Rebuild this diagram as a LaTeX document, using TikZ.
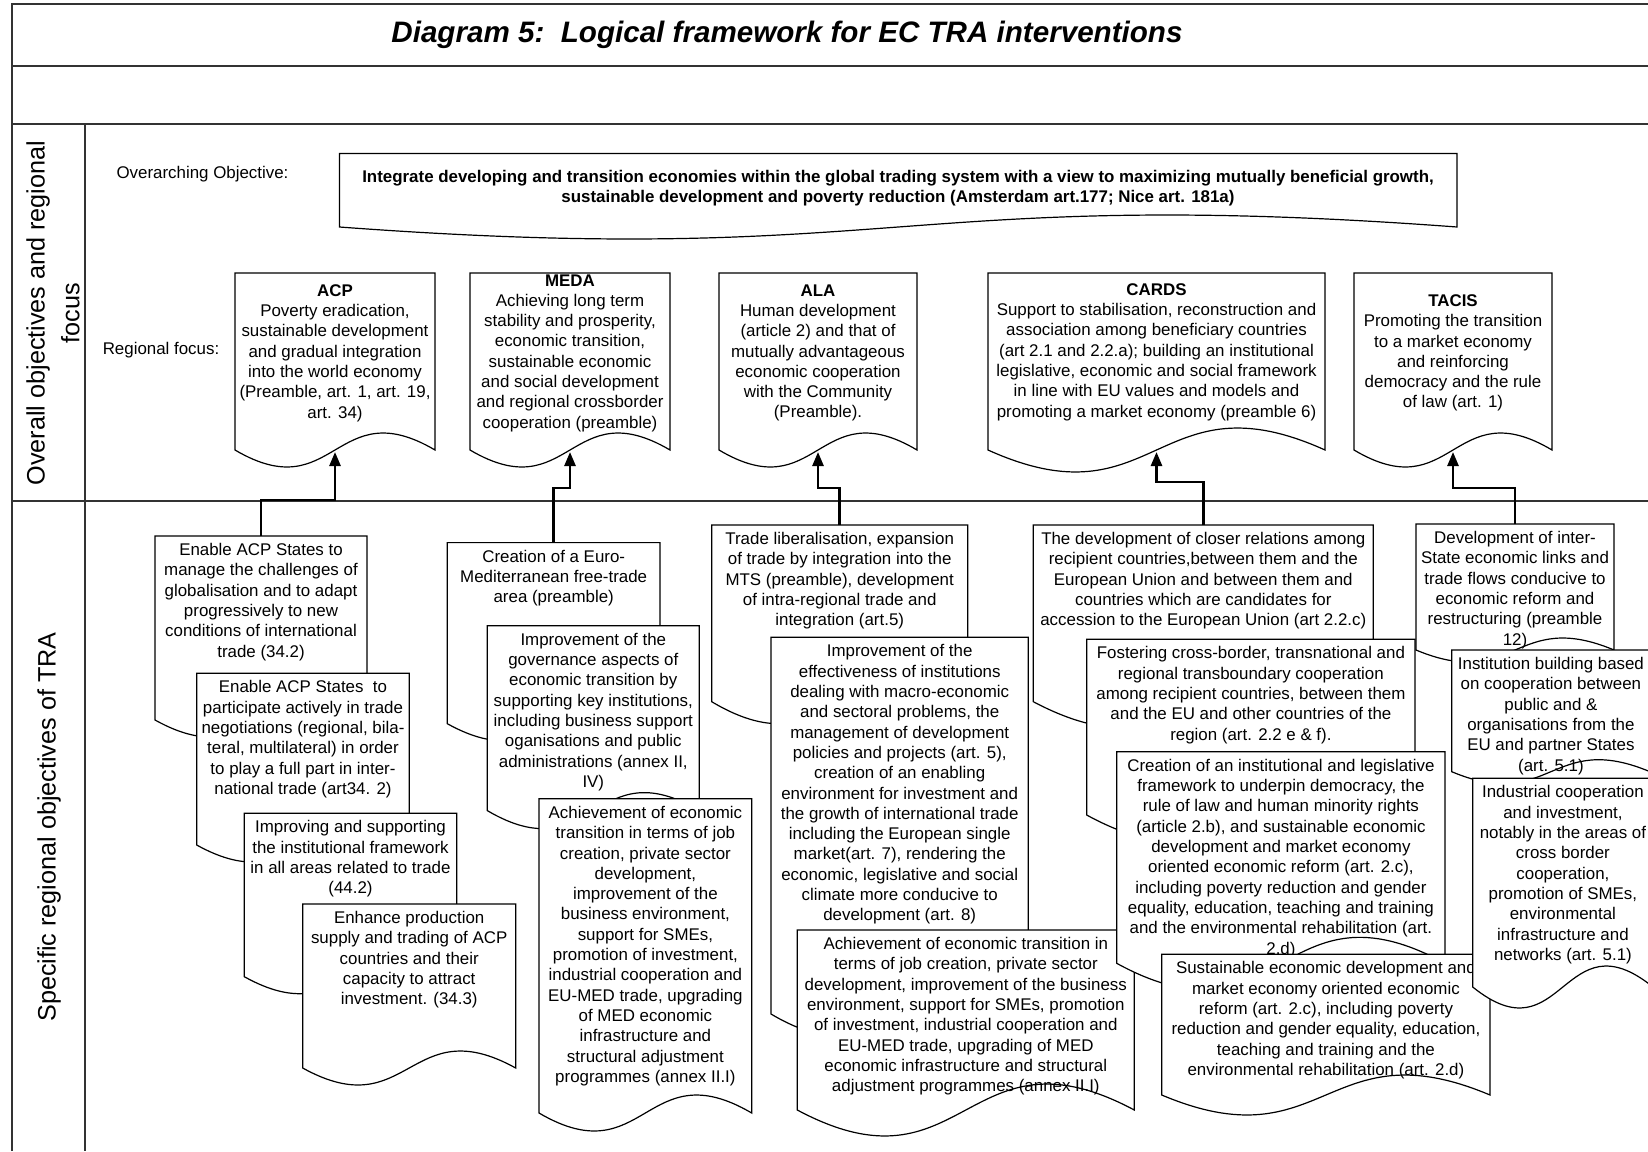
\documentclass[tikz,border=0pt]{standalone}
\usepackage{fontspec}
\setmainfont{Liberation Sans}
\usepackage{tikz}
\usetikzlibrary{arrows.meta}
\newcommand{\bodyfont}{\fontsize{8.45pt}{10.15pt}\selectfont}
\newcommand{\docshape}[5]{%
	\filldraw[docline] (#1,#2) -- (#3,#2) -- (#3,#4)
		.. controls ({(#1+#3)/2},{#4-3.46*#5}) and ({(#1+#3)/2},{#4+3.46*#5}) .. (#1,#4) -- cycle;}
\tikzset{
	frameline/.style={line width=1pt,draw=black!80},
	docline/.style={draw=black,fill=white,line width=0.6pt},
	titlestyle/.style={font=\fontsize{14.8pt}{17pt}\selectfont\bfseries\itshape},
	sidestyle/.style={rotate=90,align=center,font=\fontsize{12.6pt}{17.3pt}\selectfont},
	labelstyle/.style={font=\bodyfont},
	objstyle/.style={align=center,font=\bodyfont\bfseries},
	regstyle/.style={align=center,font=\bodyfont},
	lowstyle/.style={anchor=north,align=center,inner ysep=3.5pt,font=\bodyfont},
	linkstyle/.style={line width=1.3pt,-{Triangle[length=7pt,width=5.5pt]}}
}

\begin{document}
\begin{tikzpicture}[x=0.5pt,y=-0.5pt]
		\useasboundingbox (0,0) rectangle (1648,1151);
		\draw[frameline] (11.5,1151) -- (11.5,4) -- (1648,4);
		\draw[frameline] (11.5,66) -- (1648,66);
		\draw[frameline] (11.5,124) -- (1648,124);
		\draw[frameline] (11.5,501) -- (1648,501);
		\draw[frameline] (85,124) -- (85,1151);
		\node[titlestyle] (title) at (787,35) {Diagram 5:\ \ Logical framework for EC TRA interventions};
		\node[sidestyle] (overall) at (53,313) {Overall objectives and regional\\focus};
		\node[sidestyle] (specific) at (49,827) {Specific regional objectives of TRA};
		\node[labelstyle] (overlabel) at (202.5,174) {Overarching Objective:};
		\node[labelstyle] (reglabel) at (161,350) {Regional focus:};
		\docshape{339.5}{153.5}{1457}{227}{12}
		\node[objstyle] (objective) at (898,188) {Integrate developing and transition economies within the global trading system with a view to maximizing mutually beneficial growth,\\sustainable development and poverty reduction (Amsterdam art.177; Nice art. 181a)};
		\docshape{235}{273}{435}{450}{17}
		\node[regstyle] (acp) at (335,353) {\textbf{ACP}\\Poverty eradication,\\sustainable development\\and gradual integration\\into the world economy\\(Preamble, art. 1, art. 19,\\art. 34)};
		\coordinate (acp-tip) at (335,452);
		\docshape{470}{273}{670}{450}{17}
		\node[regstyle] (meda) at (570,353) {\textbf{MEDA}\\Achieving long term\\stability and prosperity,\\economic transition,\\sustainable economic\\and social development\\and regional crossborder\\cooperation (preamble)};
		\coordinate (meda-tip) at (570,452);
		\docshape{719}{273}{917}{450}{17}
		\node[regstyle] (ala) at (818,353) {\textbf{ALA}\\Human development\\(article 2) and that of\\mutually advantageous\\economic cooperation\\with the Community\\(Preamble).};
		\coordinate (ala-tip) at (818,452);
		\docshape{988}{273}{1325}{450}{22}
		\node[regstyle] (cards) at (1156.5,352) {\textbf{CARDS}\\Support to stabilisation, reconstruction and\\association among beneficiary countries\\(art 2.1 and 2.2.a); building an institutional\\legislative, economic and social framework\\in line with EU values and models and\\promoting a market economy (preamble 6)};
		\coordinate (cards-tip) at (1156.5,452);
		\docshape{1354}{273}{1552}{450}{17}
		\node[regstyle] (tacis) at (1453,353) {\textbf{TACIS}\\Promoting the transition\\to a market economy\\and reinforcing\\democracy and the rule\\of law (art. 1)};
		\coordinate (tacis-tip) at (1453,452);
		\docshape{155}{536}{367}{720}{17}
		\node[lowstyle] (a1) at (261,536) {Enable ACP States to\\manage the challenges of\\globalisation and to adapt\\progressively to new\\conditions of international\\trade (34.2)};
		\docshape{196.7}{673.3}{409.3}{845}{17}
		\node[lowstyle] (a2) at (303,673.3) {Enable ACP States\ \ to\\participate actively in trade\\negotiations (regional, bila-\\teral, multilateral) in order\\to play a full part in inter-\\national trade (art34. 2)};
		\docshape{244.3}{813.3}{456.7}{976.7}{17}
		\node[lowstyle] (a3) at (350.5,813.3) {Improving and supporting\\the institutional framework\\in all areas related to trade\\(44.2)};
		\docshape{302.7}{904}{515.7}{1068}{17}
		\node[lowstyle] (a4) at (409.2,904) {Enhance production\\supply and trading of ACP\\countries and their\\capacity to attract\\investment. (34.3)};
		\docshape{447.3}{542.6}{660}{723.7}{17}
		\node[lowstyle] (m1) at (553.7,542.6) {Creation of a Euro-\\Mediterranean free-trade\\area (preamble)};
		\docshape{487.3}{625.7}{699.3}{810.6}{18}
		\node[lowstyle] (m2) at (593.3,625.7) {Improvement of the\\governance aspects of\\economic transition by\\supporting key institutions,\\including business support\\oganisations and public\\administrations (annex II,\\IV)};
		\docshape{539}{798.8}{751.7}{1113}{18}
		\node[lowstyle] (m3) at (645.4,798.8) {Achievement of economic\\transition in terms of job\\creation, private sector\\development,\\improvement of the\\business environment,\\support for SMEs,\\promotion of investment,\\industrial cooperation and\\EU-MED trade, upgrading\\of MED economic\\infrastructure and\\structural adjustment\\programmes (annex II.I)};
		\docshape{711.7}{525}{967.7}{701.7}{22}
		\node[lowstyle] (l1) at (839.7,525) {Trade liberalisation, expansion\\of trade by integration into the\\MTS (preamble), development\\of intra-regional trade and\\integration (art.5)};
		\docshape{771}{637.3}{1028.3}{1014}{22}
		\node[lowstyle] (l2) at (899.7,637.3) {Improvement of the\\effectiveness of institutions\\dealing with macro-economic\\and sectoral problems, the\\management of development\\policies and projects (art. 5),\\creation of an enabling\\environment for investment and\\the growth of international trade\\including the European single\\market(art. 7), rendering the\\economic, legislative and social\\climate more conducive to\\development (art. 8)};
		\docshape{797.3}{930}{1134.3}{1110}{26}
		\node[lowstyle] (l3) at (965.8,930) {Achievement of economic transition in\\terms of job creation, private sector\\development, improvement of the business\\environment, support for SMEs, promotion\\of investment, industrial cooperation and\\EU-MED trade, upgrading of MED\\economic infrastructure and structural\\adjustment programmes (annex II.I)};
		\docshape{1033.3}{525}{1373.3}{701.7}{26}
		\node[lowstyle] (c1) at (1203.3,525) {The development of closer relations among\\recipient countries,between them and the\\European Union and between them and\\countries which are candidates for\\accession to the European Union (art 2.2.c)};
		\docshape{1086.7}{639.3}{1415}{815}{26}
		\node[lowstyle] (c2) at (1250.9,639.3) {Fostering cross-border, transnational and\\regional transboundary cooperation\\among recipient countries, between them\\and the EU and other countries of the\\region (art. 2.2 e \& f).};
		\docshape{1116.7}{751.7}{1445}{963.3}{26}
		\node[lowstyle] (c3) at (1280.9,751.7) {Creation of an institutional and legislative\\framework to underpin democracy, the\\rule of law and human minority rights\\(article 2.b), and sustainable economic\\development and market economy\\oriented economic reform (art. 2.c),\\including poverty reduction and gender\\equality, education, teaching and training\\and the environmental rehabilitation (art.\\2.d)};
		\docshape{1161.7}{954.3}{1490}{1095}{20}
		\node[lowstyle] (c4) at (1325.9,954.3) {Sustainable economic development and\\market economy oriented economic\\reform (art. 2.c), including poverty\\reduction and gender equality, education,\\teaching and training and the\\environmental rehabilitation (art. 2.d)};
		\docshape{1416}{524}{1614}{650}{12}
		\node[lowstyle] (t1) at (1515,524) {Development of inter-\\State economic links and\\trade flows conducive to\\economic reform and\\restructuring (preamble\\12)};
		\docshape{1451.7}{650}{1650}{771.7}{12}
		\node[lowstyle] (t2) at (1550.9,650) {Institution building based\\on cooperation between\\public and \&\\organisations from the\\EU and partner States\\(art. 5.1)};
		\docshape{1472.7}{778.3}{1653}{987}{21}
		\node[lowstyle] (t3) at (1562.9,778.3) {Industrial cooperation\\and investment,\\notably in the areas of\\cross border\\cooperation,\\promotion of SMEs,\\environmental\\infrastructure and\\networks (art. 5.1)};
		\draw[linkstyle] (a1.north) -- (a1.north |- 0,500) -| (acp-tip);
		\draw[linkstyle] (m1.north) -- (m1.north |- 0,488) -| (meda-tip);
		\draw[linkstyle] (l1.north) -- (l1.north |- 0,488) -| (ala-tip);
		\draw[linkstyle] (c1.north) -- (c1.north |- 0,482) -| (cards-tip);
		\draw[linkstyle] (t1.north) -- (t1.north |- 0,488) -| (tacis-tip);
\end{tikzpicture}
\end{document}
